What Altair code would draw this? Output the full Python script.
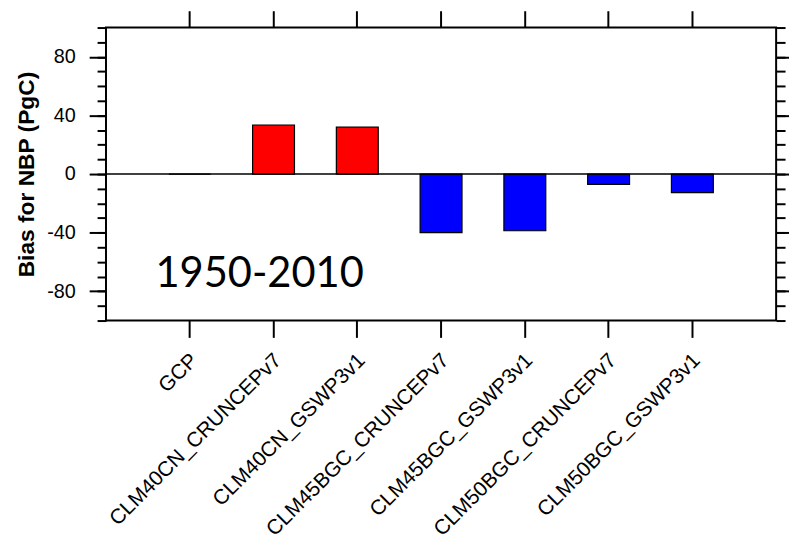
import altair as alt
import pandas as pd

categories = ["GCP", "CLM40CN_CRUNCEPv7", "CLM40CN_GSWP3v1", "CLM45BGC_CRUNCEPv7",
              "CLM45BGC_GSWP3v1", "CLM50BGC_CRUNCEPv7", "CLM50BGC_GSWP3v1"]
bias = [0.0, 33.5, 32.0, -40.0, -38.7, -7.0, -12.7]
major_ticks = [-80, -40, 0, 40, 80]
minor_ticks = [-100, -90, -80, -70, -60, -50, -40, -30, -20, -10, 0,
               10, 20, 30, 40, 50, 60, 70, 80, 90, 100]
y_domain = [-100, 100]
annotation = ["1950-2010"]
y_title = "Bias for NBP (PgC)"

df = pd.DataFrame({
    "model": categories,
    "bias": bias,
    "color": ["red" if v > 0 else "blue" for v in bias],
})

W, H = 677, 296
FONT = "Liberation Sans"

xscale = alt.Scale(domain=categories, paddingInner=0.5, paddingOuter=0.75)
yscale = alt.Scale(domain=y_domain, nice=False)

tick_common = dict(tickColor="black", tickWidth=2, domain=False, grid=False, title=None)

base = alt.Chart(df)

bars = base.mark_bar(stroke="black", strokeWidth=1.2).encode(
    x=alt.X("model:N", sort=categories, scale=xscale,
            axis=alt.Axis(orient="bottom", tickSize=17, labelAngle=315, labelAlign="right",
                          labelBaseline="top", labelFontSize=21, labelFont=FONT,
                          labelColor="black", labelPadding=12, labelOffset=-3, labelLimit=400,
                          **tick_common)),
    y=alt.Y("bias:Q", scale=yscale,
            axis=alt.Axis(orient="left", values=major_ticks, tickSize=17, tickColor="black",
                          tickWidth=2, domain=False, grid=False,
                          labelExpr="'' + datum.value",
                          labelFontSize=20, labelFont=FONT, labelColor="black", labelPadding=14,
                          title=y_title, titleFont=FONT, titleFontSize=23, titleFontWeight="bold",
                          titleColor="black", titleX=-80, titleY=H / 2, titleAngle=270,
                          titleAlign="center", titleBaseline="middle")),
    color=alt.Color("color:N", scale=None),
)


def ghost(xaxis, yaxis):
    return base.mark_bar(opacity=0).encode(
        x=alt.X("model:N", sort=categories, scale=xscale, axis=xaxis),
        y=alt.Y("bias:Q", scale=yscale, axis=yaxis),
    )


left_minor = ghost(None, alt.Axis(orient="left", values=minor_ticks, tickSize=9,
                                  labels=False, **tick_common))
right_major = ghost(None, alt.Axis(orient="right", values=major_ticks, tickSize=17,
                                   labels=False, **tick_common))
right_minor = ghost(None, alt.Axis(orient="right", values=minor_ticks, tickSize=9,
                                   labels=False, **tick_common))
top_ticks = ghost(alt.Axis(orient="top", tickSize=17, labels=False, **tick_common), None)

zero = alt.Chart(pd.DataFrame({"z": [0]})).mark_rule(color="black", strokeWidth=1.5).encode(
    y=alt.Y("z:Q", scale=yscale, axis=None)
)

label = alt.Chart(pd.DataFrame({"t": annotation})).mark_text(
    font="Lato", fontSize=42, align="left", baseline="alphabetic", color="black"
).encode(x=alt.value(50), y=alt.value(262), text="t:N")

chart = alt.layer(
    bars, zero, left_minor, right_major, right_minor, top_ticks, label
).resolve_axis(x="independent", y="independent").properties(
    width=W, height=H,
    autosize=alt.AutoSizeParams(type="none"),
    padding={"left": 99, "top": 17, "right": 13, "bottom": 225},
).configure(background="white").configure_view(stroke="black", strokeWidth=2)

chart.save("out.html", embed_options={"renderer": "svg", "actions": False})
